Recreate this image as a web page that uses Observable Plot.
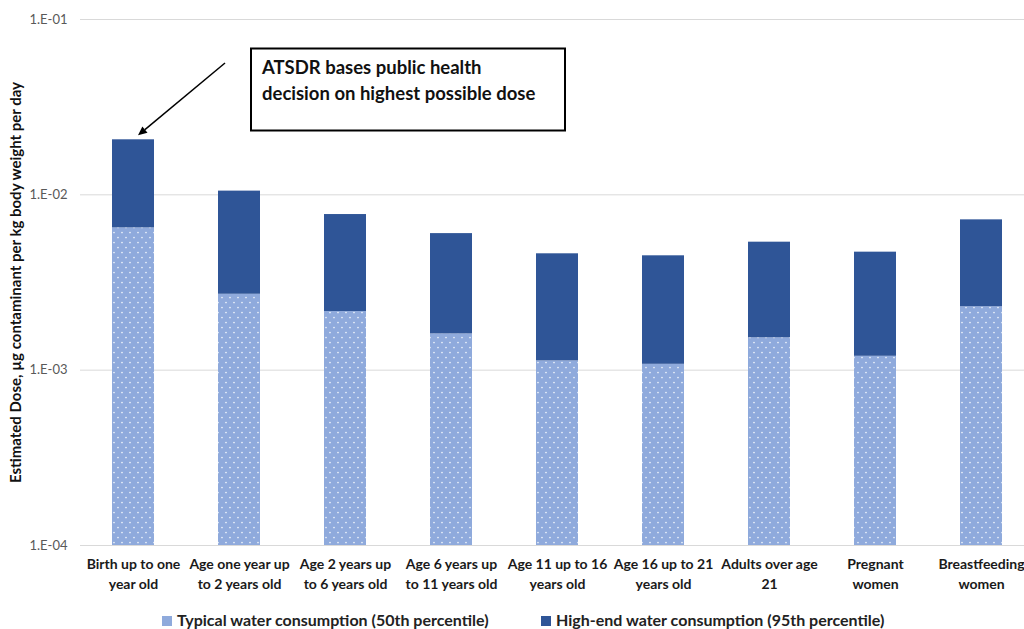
<!DOCTYPE html>
<html><head><meta charset="utf-8">
<script src="https://cdn.jsdelivr.net/npm/d3@7"></script>
<script src="https://cdn.jsdelivr.net/npm/@observablehq/plot@0.6"></script>
<style>
body{margin:0;background:#fff;font-family:Lato,"Open Sans",sans-serif;}
#chart svg{display:block;font-family:Lato,sans-serif;}
#chart g[aria-label="x-axis tick label"] text{font-weight:bold;fill:#1a1a1a;}
#legend{position:relative;height:25px;font-weight:bold;font-size:16px;color:#222;}
#legend .item{position:absolute;top:6px;white-space:nowrap;line-height:20px;}
#legend .sw{display:inline-block;width:10px;height:10px;margin-right:5px;vertical-align:0px;}
</style></head><body>
<div id="chart"></div>
<div id="legend"></div>
<script>
const categories = ["Birth up to one year old","Age one year up to 2 years old","Age 2 years up to 6 years old","Age 6 years up to 11 years old","Age 11 up to 16 years old","Age 16 up to 21 years old","Adults over age 21","Pregnant women","Breastfeeding women"];
const xTickLabels = ["Birth up to one\nyear old","Age one year up\nto 2 years old","Age 2 years up\nto 6 years old","Age 6 years up\nto 11 years old","Age 11 up to 16\nyears old","Age 16 up to 21\nyears old","Adults over age\n21","Pregnant\nwomen","Breastfeeding\nwomen"];
const typical50 = [0.00648, 0.00271, 0.00216, 0.00161, 0.00113, 0.00108, 0.00153, 0.00120, 0.00230];
const highEnd95 = [0.0206, 0.0105, 0.00772, 0.00601, 0.00461, 0.00449, 0.00537, 0.00471, 0.00720];
const yTicks = [1e-4, 1e-3, 1e-2, 1e-1];
const yTickLabels = ["1.E-04","1.E-03","1.E-02","1.E-01"];
const seriesNames = ["Typical water consumption (50th percentile)","High-end water consumption (95th percentile)"];
const yLabel = "Estimated Dose, µg contaminant per kg body weight per day";
const noteLines = ["ATSDR bases public health","decision on highest possible dose"];

const rows = categories.map((c,i)=>({group:c, p50:typical50[i], p95:highEnd95[i]}));
const LIGHT = "#8faadc", DARK = "#2f5597";

function annotation(index, scales, values, dims) {
  const x = scales.x, y = scales.y;
  const bw = (scales.scales && scales.scales.x && scales.scales.x.bandwidth) || 0;
  const cx = x(categories[0]) + bw/2;
  const ty = y(highEnd95[0]);
  const g = d3.create("svg:g");
  const tip = [cx + 5, ty - 4], tail = [cx + 92, 63];
  const ang = Math.atan2(tip[1]-tail[1], tip[0]-tail[0]);
  const hl = 9, hw = 4;
  const base = [tip[0]-hl*Math.cos(ang), tip[1]-hl*Math.sin(ang)];
  g.append("line").attr("x1",tail[0]).attr("y1",tail[1]).attr("x2",base[0]).attr("y2",base[1])
    .attr("stroke","#000").attr("stroke-width",1.5);
  g.append("path").attr("d",`M${tip[0]},${tip[1]}L${base[0]+hw*Math.sin(ang)},${base[1]-hw*Math.cos(ang)}L${base[0]-hw*Math.sin(ang)},${base[1]+hw*Math.cos(ang)}Z`).attr("fill","#000");
  g.append("rect").attr("x",251).attr("y",48.5).attr("width",314).attr("height",82)
    .attr("fill","#fff").attr("stroke","#000").attr("stroke-width",2);
  const t = g.append("text").attr("font-family","Lato,sans-serif").attr("font-weight","bold")
    .attr("font-size",18.5).attr("fill","#111").attr("text-anchor","start");
  noteLines.forEach((l,i)=>t.append("tspan").attr("x",262).attr("y",74+i*26).text(l));
  return g.node();
}

const chart = Plot.plot({
  width: 1024, height: 604,
  marginTop: 19, marginBottom: 59, marginLeft: 80, marginRight: 0,
  style: {fontFamily: "Lato, sans-serif", background: "#fff"},
  x: {domain: categories, range: [80, 1034], paddingInner: 0.6, paddingOuter: 0.3, label: null},
  y: {type: "log", domain: [1e-4, 1e-1], label: null},
  marks: [
    Plot.gridY(yTicks, {stroke: "#d9d9d9", strokeOpacity: 1, strokeWidth: 1}),
    Plot.barY(rows, {x: "group", y1: 1e-4, y2: "p50", fill: "url(#dots)", inset: 0}),
    Plot.barY(rows, {x: "group", y1: "p50", y2: "p95", fill: DARK, inset: 0}),
    Plot.axisY({ticks: yTicks, tickSize: 0, tickPadding: 13, fontSize: 13, color: "#595959", tickFormat: d => yTickLabels[yTicks.indexOf(d)], label: null}),
    Plot.axisX({tickSize: 0, tickPadding: 10, fontSize: 14, lineHeight: 1.4, tickFormat: d => xTickLabels[categories.indexOf(d)], label: null}),
    Plot.text([yLabel], {frameAnchor: "left", rotate: -90, dx: -64, fontSize: 15, fontWeight: "bold", fill: "#111", textAnchor: "middle", lineAnchor: "middle"}),
    annotation
  ]
});
const svg = d3.select(chart);
const defs = svg.insert("defs", ":first-child");
const pat = defs.append("pattern").attr("id","dots").attr("patternUnits","userSpaceOnUse").attr("width",8).attr("height",10);
pat.append("rect").attr("width",8).attr("height",10).attr("fill",LIGHT);
pat.append("circle").attr("cx",2).attr("cy",2.5).attr("r",0.85).attr("fill","#eef3fb");
pat.append("circle").attr("cx",6).attr("cy",7.5).attr("r",0.85).attr("fill","#eef3fb");
document.getElementById("chart").appendChild(chart);

const legend = d3.select("#legend");
const lx = [162, 541];
seriesNames.forEach((n,i)=>{
  const it = legend.append("div").attr("class","item").style("left", lx[i]+"px");
  it.append("span").attr("class","sw").style("background", i===0 ? LIGHT : DARK);
  it.append("span").text(n);
});
</script>
</body></html>
